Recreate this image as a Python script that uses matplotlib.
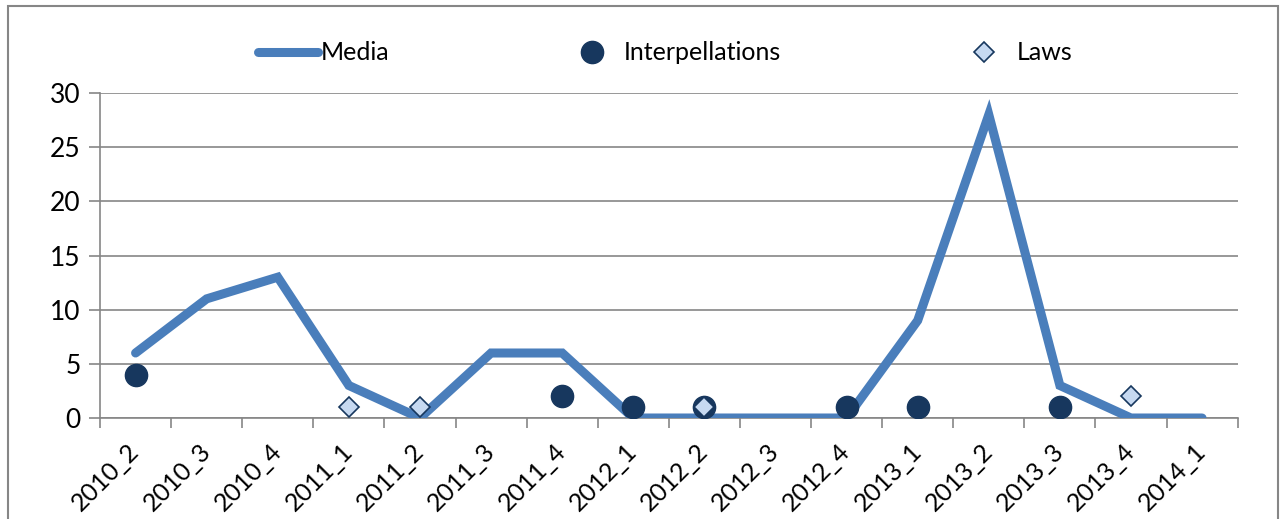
import matplotlib.pyplot as plt
from matplotlib.lines import Line2D
from matplotlib.patches import Rectangle
import numpy as np

plt.rcParams['font.family'] = ['Lato', 'DejaVu Sans']

# dados
quarters = ['2010_2', '2010_3', '2010_4', '2011_1', '2011_2', '2011_3', '2011_4', '2012_1',
            '2012_2', '2012_3', '2012_4', '2013_1', '2013_2', '2013_3', '2013_4', '2014_1']
media = [6, 11, 13, 3, 0, 6, 6, 0, 0, 0, 0, 9, 28, 3, 0, 0]
interpellations = [4, None, None, None, None, None, 2, 1, 1, None, 1, 1, None, 1, None, None]
laws = [None, None, None, 1, 1, None, None, None, 1, None, None, None, None, None, 2, None]

line_color = '#4A7EBB'
dark = '#17375E'
light = '#C6D9F1'
grey = '#868686'

x = np.arange(len(quarters))
interp = np.array([np.nan if v is None else v for v in interpellations], dtype=float)
law = np.array([np.nan if v is None else v for v in laws], dtype=float)

fig = plt.figure(figsize=(12.84, 5.19), dpi=100)
ax = fig.add_axes([0.0779, 0.1946, 0.886, 0.6262])

ax.plot(x, media, color=line_color, lw=6.5, solid_capstyle='round', solid_joinstyle='miter', zorder=3)
ax.plot(x, interp, 'o', color=dark, markersize=16, linestyle='none', zorder=4)
ax.plot(x, law, 'D', markerfacecolor=light, markeredgecolor=dark, markeredgewidth=1.2,
        markersize=10, linestyle='none', zorder=5)

ax.set_xlim(-0.5, len(quarters) - 0.5)
ax.set_ylim(0, 30)
ax.set_yticks(range(0, 31, 5))
ax.grid(axis='y', color=grey, lw=1.2)
ax.set_axisbelow(True)

ax.set_xticks(x)
ax.set_xticklabels(quarters, rotation=45, ha='right', va='center', rotation_mode='anchor')
ax.set_xticks(np.arange(-0.5, len(quarters), 1), minor=True)
ax.tick_params(axis='x', which='major', length=0, pad=21, labelsize=18)
ax.tick_params(axis='x', which='minor', length=7, width=1.2, color=grey)
ax.tick_params(axis='y', length=8, width=1.2, color=grey, labelsize=19, pad=6)

for s in ['top', 'right']:
    ax.spines[s].set_visible(False)
for s in ['left', 'bottom']:
    ax.spines[s].set_color(grey)
    ax.spines[s].set_linewidth(1.2)

handles = [
    Line2D([], [], color=line_color, lw=6.5, solid_capstyle='round'),
    Line2D([], [], marker='o', color=dark, markersize=16, linestyle='none'),
    Line2D([], [], marker='D', markerfacecolor=light, markeredgecolor=dark,
           markeredgewidth=1.2, markersize=10, linestyle='none'),
]
fig.legend(handles, ['Media', 'Interpellations', 'Laws'], loc='center', bbox_to_anchor=(0.518, 0.898),
           ncol=3, frameon=False, fontsize=18, handlelength=2.4, handletextpad=0.1, columnspacing=6.9)

# moldura externa
fig.add_artist(Rectangle((8 / 1284, -0.05), 1270 / 1284, 1.05 - 6 / 519, transform=fig.transFigure,
                         fill=False, edgecolor=grey, lw=1.5))

fig.savefig('out.png', dpi=100)
